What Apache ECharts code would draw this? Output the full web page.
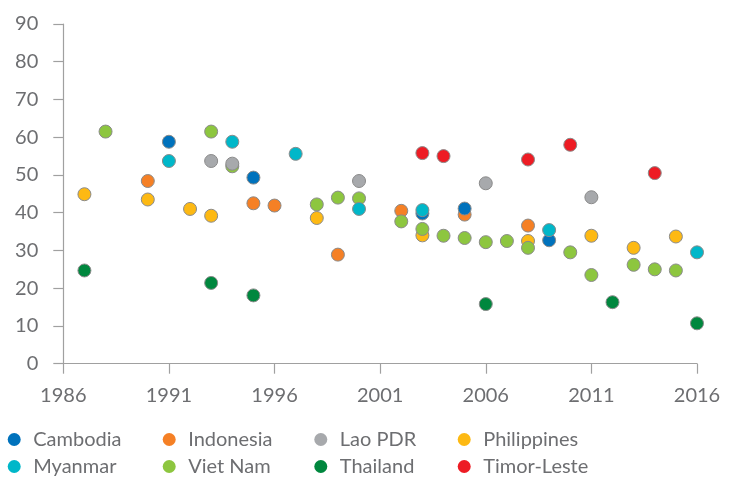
<!DOCTYPE html>
<html>
<head>
<meta charset="utf-8">
<script src="https://cdn.jsdelivr.net/npm/echarts@6/dist/echarts.min.js"></script>
<style>
  html, body { margin: 0; padding: 0; background: #fff; }
  #chart { width: 733px; height: 478px; }
</style>
</head>
<body>
<div id="chart"></div>
<script>
// values: [year, value]
const cambodia = [[1991, 58.8], [1995, 49.3], [2003, 39.8], [2005, 41.1], [2009, 32.7]];
const indonesia = [[1990, 48.4], [1995, 42.5], [1996, 41.9], [1999, 28.9], [2002, 40.5], [2005, 39.5], [2008, 36.6]];
const laoPdr = [[1993, 53.7], [1994, 53.0], [2000, 48.4], [2006, 47.8], [2011, 44.1]];
const philippines = [[1987, 44.9], [1990, 43.5], [1992, 41.0], [1993, 39.2], [1998, 38.6], [2003, 34.0],
  [2008, 32.5], [2011, 33.9], [2013, 30.7], [2015, 33.7]];
const myanmar = [[1991, 53.7], [1994, 58.8], [1997, 55.6], [2000, 41.0], [2003, 40.7], [2009, 35.4], [2016, 29.5]];
const vietNam = [[1988, 61.5], [1993, 61.5], [1994, 52.3], [1998, 42.2], [1999, 44.0], [2000, 43.8],
  [2002, 37.7], [2003, 35.7], [2004, 33.9], [2005, 33.3], [2006, 32.2], [2007, 32.5], [2008, 30.7],
  [2010, 29.5], [2011, 23.5], [2013, 26.2], [2014, 25.0], [2015, 24.7]];
const thailand = [[1987, 24.7], [1993, 21.4], [1995, 18.1], [2006, 15.8], [2012, 16.3], [2016, 10.7]];
const timorLeste = [[2003, 55.8], [2004, 55.0], [2008, 54.1], [2010, 58.0], [2014, 50.5]];

const textColor = "#6d6e71";
const axisColor = "#a0a0a0";
const font = "Lato";

// drawing order (later on top)
const seriesList = [
  {name: "Indonesia", data: indonesia, color: "#f58025"},
  {name: "Philippines", data: philippines, color: "#fdb913"},
  {name: "Viet Nam", data: vietNam, color: "#8dc63f"},
  {name: "Lao PDR", data: laoPdr, color: "#a7a9ac"},
  {name: "Cambodia", data: cambodia, color: "#0072bc"},
  {name: "Myanmar", data: myanmar, color: "#00b7c9"},
  {name: "Thailand", data: thailand, color: "#00873e"},
  {name: "Timor-Leste", data: timorLeste, color: "#ed1c24"},
];

const legendColumns = [
  {left: 7.7, data: ["Cambodia", "Myanmar"]},
  {left: 162.7, data: ["Indonesia", "Viet Nam"]},
  {left: 314.3, data: ["Lao PDR", "Thailand"]},
  {left: 457.7, data: ["Philippines", "Timor-Leste"]},
];

const chart = echarts.init(document.getElementById("chart"));

const option = {
  animation: false,
  grid: {left: 63.3, right: 36, top: 24, bottom: 114.3, containLabel: false},
  legend: legendColumns.map(col => ({
    data: col.data,
    orient: "vertical",
    left: col.left,
    top: 429,
    padding: 0,
    itemGap: 6,
    itemWidth: 28,
    itemHeight: 13,
    icon: "circle",
    itemStyle: {borderWidth: 0},
    textStyle: {color: textColor, fontSize: 20, lineHeight: 21, fontFamily: font},
  })),
  xAxis: {
    type: "value",
    min: 1986,
    max: 2016,
    interval: 5,
    splitLine: {show: false},
    axisLine: {onZero: false, lineStyle: {color: axisColor, width: 1.2}},
    axisTick: {show: true, length: 10, lineStyle: {color: axisColor, width: 1.2}},
    axisLabel: {
      color: textColor, fontSize: 20, fontFamily: font, margin: 22,
      formatter: v => String(v),
    },
  },
  yAxis: {
    type: "value",
    min: 0,
    max: 90,
    interval: 10,
    splitLine: {show: false},
    axisLine: {show: true, lineStyle: {color: axisColor, width: 1.2}},
    axisTick: {show: true, length: 10, lineStyle: {color: axisColor, width: 1.2}},
    axisLabel: {color: textColor, fontSize: 20, fontFamily: font, margin: 25},
  },
  series: seriesList.map(s => ({
    name: s.name,
    type: "scatter",
    data: s.data,
    symbol: "circle",
    symbolSize: 13,
    itemStyle: {color: s.color, borderColor: "#8a8a8a", borderWidth: 1, opacity: 1},
    emphasis: {disabled: true},
  })),
};

chart.setOption(option);
</script>
</body>
</html>
